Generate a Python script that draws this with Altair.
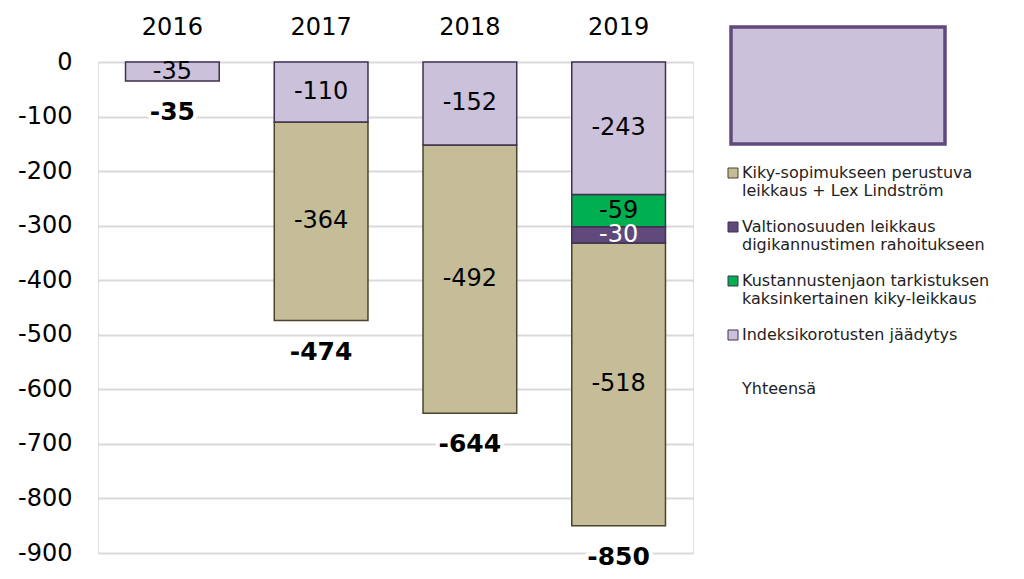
import altair as alt
import pandas as pd

years = ["2016", "2017", "2018", "2019"]
series_names = [
    "Kiky-sopimukseen perustuva leikkaus + Lex Lindström",
    "Valtionosuuden leikkaus digikannustimen rahoitukseen",
    "Kustannustenjaon tarkistuksen kaksinkertainen kiky-leikkaus",
    "Indeksikorotusten jäädytys",
]
total_name = "Yhteensä"
legend_lines = [
    ["Kiky-sopimukseen perustuva", "leikkaus + Lex Lindström"],
    ["Valtionosuuden leikkaus", "digikannustimen rahoitukseen"],
    ["Kustannustenjaon tarkistuksen", "kaksinkertainen kiky-leikkaus"],
    ["Indeksikorotusten jäädytys", ""],
    ["Yhteensä"],
]

kiky = [0, -364, -492, -518]
valtio = [0, 0, 0, -30]
kusta = [0, 0, 0, -59]
indeksi = [-35, -110, -152, -243]
totals = [-35, -474, -644, -850]

fills = ["#c4bd97", "#604a7b", "#00b050", "#ccc1da", "transparent"]
strokes = ["#4a452a", "#3f3151", "#3f3151", "#3f3151", "transparent"]
text_colors = ["black", "white", "black", "black"]
stack_rank = [3, 2, 1, 0]

rows = []
for s_i, vals in enumerate([kiky, valtio, kusta, indeksi]):
    for y_i, v in enumerate(vals):
        if v != 0:
            rows.append({"year": years[y_i], "series": series_names[s_i], "value": v,
                         "rank": stack_rank[s_i], "label": str(v), "tcolor": text_colors[s_i]})
seg = pd.DataFrame(rows)
tot = pd.DataFrame({"year": years, "total": totals, "label": [str(t) for t in totals]})

FONT = "DejaVu Sans"
domain = series_names + [total_name]

lab_expr = " : ".join(
    f"datum.label == '{n}' ? {lines!r}" for n, lines in zip(domain, legend_lines)
) + " : datum.label"

x_enc = alt.X("year:N", sort=years,
              scale=alt.Scale(paddingInner=0.37, paddingOuter=0.185),
              axis=alt.Axis(orient="top", title=None, labelAngle=0, domain=False, ticks=False,
                            labelFontSize=24, labelFont=FONT, labelColor="black", labelPadding=23))

y_scale = alt.Scale(domain=[-900, 0], nice=False)

leg = dict(title=None, orient="none", legendX=627, legendY=103,
           symbolType="square", symbolSize=100, symbolStrokeWidth=1,
           labelFontSize=16, labelFont=FONT, labelColor="#222",
           labelExpr=lab_expr, labelLimit=400, rowPadding=20, labelOffset=1)

base = alt.Chart(seg).transform_stack(
    stack="value", groupby=["year"], sort=[alt.SortField("rank", order="ascending")], as_=["v0", "v1"]
).transform_calculate(mid="(datum.v0 + datum.v1) / 2")

bars = base.mark_bar(strokeWidth=1.5).encode(
    x=x_enc,
    y=alt.Y("v0:Q", scale=y_scale,
            axis=alt.Axis(values=list(range(-900, 1, 100)), labelExpr="'' + datum.value", title=None,
                          grid=True, gridColor="#d9d9d9", gridWidth=2, domain=False, ticks=False,
                          labelFontSize=24, labelFont=FONT, labelColor="black", labelPadding=26)),
    y2="v1:Q",
    color=alt.Color("series:N", scale=alt.Scale(domain=domain, range=fills), legend=alt.Legend(**leg)),
    stroke=alt.Stroke("series:N", scale=alt.Scale(domain=domain, range=strokes), legend=alt.Legend(**leg)),
)

seg_text = base.mark_text(fontSize=24, font=FONT, baseline="middle").encode(
    x=alt.X("year:N", sort=years),
    y=alt.Y("mid:Q", scale=y_scale),
    text="label:N",
    color=alt.Color("tcolor:N", scale=None),
)

tot_base = alt.Chart(tot)
tot_halo = tot_base.mark_text(fontSize=25, font=FONT, fontWeight="bold", dy=31, baseline="middle",
                              color="white", stroke="white", strokeWidth=8, strokeJoin="round").encode(
    x=alt.X("year:N", sort=years), y=alt.Y("total:Q", scale=y_scale), text="label:N")
tot_text = tot_base.mark_text(fontSize=25, font=FONT, fontWeight="bold", dy=31, baseline="middle",
                              color="black").encode(
    x=alt.X("year:N", sort=years), y=alt.Y("total:Q", scale=y_scale), text="label:N")

box = alt.Chart(pd.DataFrame({"k": [total_name]})).mark_rect(
    fill="#ccc1da", stroke="#604a7b", strokeWidth=3.5, clip=False).encode(
    x=alt.value(633), x2=alt.value(847), y=alt.value(-35), y2=alt.value(82))

chart = alt.layer(bars, seg_text, tot_halo, tot_text, box).properties(
    width=595, height=491,
    padding={"left": 9, "top": 7, "right": 5, "bottom": 5},
).configure_view(stroke=None).configure(font=FONT)

chart.save("out.html", embed_options={"renderer": "svg", "actions": False})
